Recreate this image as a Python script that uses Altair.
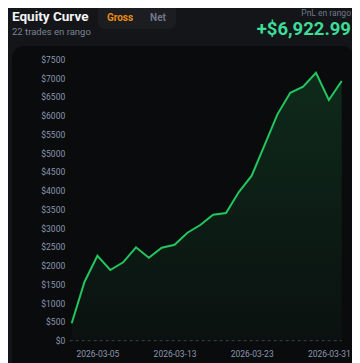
import altair as alt
import pandas as pd

# ---- data ----
dates = ["2026-03-02", "2026-03-04", "2026-03-05", "2026-03-06", "2026-03-09",
         "2026-03-10", "2026-03-11", "2026-03-12", "2026-03-13", "2026-03-16",
         "2026-03-17", "2026-03-18", "2026-03-19", "2026-03-20", "2026-03-23",
         "2026-03-24", "2026-03-25", "2026-03-26", "2026-03-27", "2026-03-30",
         "2026-03-31", "2026-04-01"]
equity = [464, 1572, 2265, 1884, 2089, 2489, 2212, 2480, 2558, 2878, 3083,
          3358, 3403, 3963, 4397, 5215, 6033, 6609, 6769, 7142, 6415, 6922.99]
y_ticks = [0, 500, 1000, 1500, 2000, 2500, 3000, 3500, 4000, 4500, 5000,
           5500, 6000, 6500, 7000, 7500]
x_tick_idx = [2, 8, 14, 20]

title = "Equity Curve"
subtitle = "22 trades en rango"
toggle_labels = ["Gross", "Net"]
pnl_label = "PnL en rango"
pnl_value = "+$6,922.99"

df = pd.DataFrame({"i": list(range(len(equity))), "equity": equity, "date": dates})
one = pd.DataFrame({"a": [0]})

W, H = 270, 281.4
PAD_L, PAD_T = 63.7, 51.3
TOTAL_W, TOTAL_H = 344, 355

FONT = "Roboto"
BG = "#141518"
PANEL = "#0a0b0d"
GREEN = "#22c55e"
AXIS_TXT = "#8b97ad"


def px(page_x):
    return page_x - 8 - PAD_L


def py(page_y):
    return page_y - 8 - PAD_T


date_arr = "[" + ",".join("'" + d + "'" for d in dates) + "]"

x_scale = alt.Scale(domain=[0, len(equity) - 1], nice=False, zero=False)
y_scale = alt.Scale(domain=[0, 7500], nice=False)

axis_common = dict(title=None, domain=False, ticks=False, grid=False,
                   labelColor=AXIS_TXT, labelFont=FONT, labelFontSize=8.5,
                   labelOverlap=False, zindex=1)

x_enc = alt.X("i:Q", scale=x_scale,
              axis=alt.Axis(values=x_tick_idx, labelExpr=date_arr + "[datum.value]",
                            labelPadding=9, labelFlush=False, **axis_common))
y_enc = alt.Y("equity:Q", scale=y_scale,
              axis=alt.Axis(values=y_ticks, tickCount=len(y_ticks),
                            labelExpr="'$' + datum.value",
                            labelPadding=7, **axis_common))

base = alt.Chart(df)

panel = alt.Chart(one).mark_rect(fill=PANEL, cornerRadius=12).encode(
    x=alt.value(px(12)), x2=alt.value(px(354)),
    y=alt.value(py(46)), y2=alt.value(py(400)))

toggle = alt.Chart(one).mark_rect(fill="#1c1d21", cornerRadius=7).encode(
    x=alt.value(px(98)), x2=alt.value(px(176)),
    y=alt.value(py(4)), y2=alt.value(py(29)))


def txt(text, x, y, size, color, weight="normal", align="left"):
    return alt.Chart(one).mark_text(
        text=text, font=FONT, fontSize=size, color=color, fontWeight=weight,
        align=align, baseline="middle").encode(x=alt.value(px(x)), y=alt.value(py(y)))


t_title = txt(title, 12, 17, 13.5, "#f2f3f5", "bold")
t_sub = txt(subtitle, 12, 31.5, 9.5, "#7b8394")
t_gross = txt(toggle_labels[0], 120, 18, 10, "#e68a17", "bold", "center")
t_net = txt(toggle_labels[1], 158, 18, 10, "#6f7787", "bold", "center")
t_pnl_l = txt(pnl_label, 351, 12.5, 8.5, "#6f7787", "normal", "right")
t_pnl_v = txt(pnl_value, 351, 28.5, 18.5, "#3ddc97", "bold", "right")

area = base.mark_area(
    line=False,
    color=alt.Gradient(
        gradient="linear",
        stops=[alt.GradientStop(color="rgba(34,197,94,0.17)", offset=0),
               alt.GradientStop(color="rgba(34,197,94,0.03)", offset=1)],
        x1=0, x2=0, y1=0, y2=1)
).encode(x=x_enc, y=y_enc)

zero = alt.Chart(one).mark_rule(color="#3b404b", strokeDash=[3, 3], strokeWidth=1).encode(
    x=alt.value(-2), x2=alt.value(W), y=alt.value(H))

line = base.mark_line(color=GREEN, strokeWidth=2, strokeJoin="miter").encode(
    x=x_enc, y=y_enc)

chart = alt.layer(
    panel, toggle, t_title, t_sub, t_gross, t_net, t_pnl_l, t_pnl_v,
    zero, area, line
).properties(
    width=W, height=H,
    autosize=alt.AutoSizeParams(type="none"),
    padding={"left": PAD_L, "top": PAD_T, "right": TOTAL_W - PAD_L - W,
             "bottom": TOTAL_H - PAD_T - H},
).configure(background=BG).configure_view(stroke=None)

chart.save("out.html", embed_options={"renderer": "svg", "actions": False})
